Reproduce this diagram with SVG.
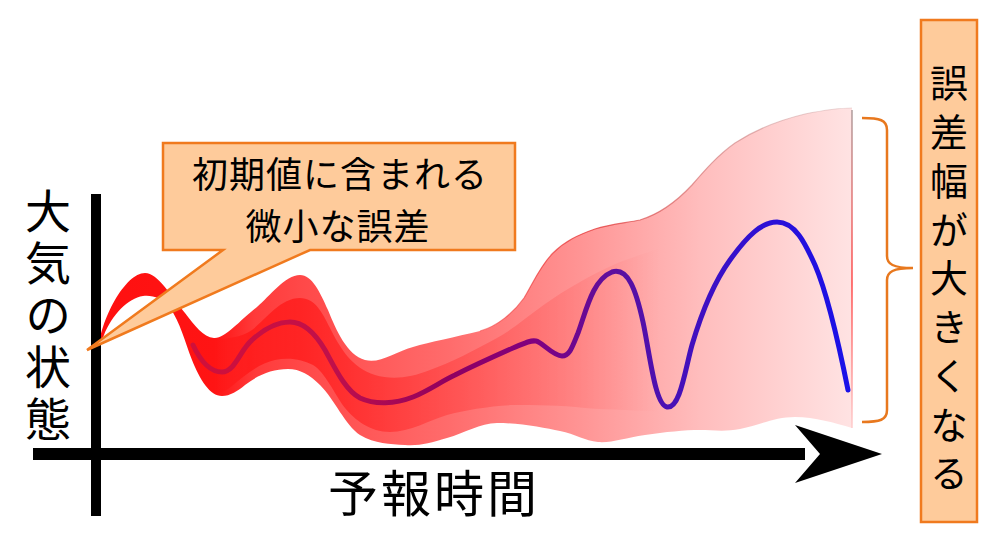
<svg xmlns="http://www.w3.org/2000/svg" width="989" height="545" viewBox="0 0 989 545">
<style>
.jp{font-family:"Noto Sans CJK JP","Noto Sans CJK SC",sans-serif;fill:#000}
.vt{writing-mode:vertical-rl;text-orientation:upright}
.call{fill:#FECB9B;stroke:#F07A1E;stroke-width:2.5;stroke-linejoin:miter}
.brace{fill:none;stroke:#E8781E;stroke-width:2.5}
.ax{fill:#000}
</style>
<defs>
<linearGradient id="outerG" gradientUnits="userSpaceOnUse" x1="96" y1="0" x2="852" y2="0">
<stop offset="0" stop-color="#FF1010"/>
<stop offset="0.157" stop-color="#FF1414"/>
<stop offset="0.21" stop-color="#FF3a3a"/>
<stop offset="0.27" stop-color="#FF4848"/>
<stop offset="0.468" stop-color="#FF6c6c"/>
<stop offset="0.64" stop-color="#FF9494"/>
<stop offset="0.799" stop-color="#FFBDBD"/>
<stop offset="1" stop-color="#FFE3E3"/>
</linearGradient>
<linearGradient id="innerG" gradientUnits="userSpaceOnUse" x1="214" y1="0" x2="660" y2="0">
<stop offset="0" stop-color="#FF0000" stop-opacity="0"/>
<stop offset="0.08" stop-color="#FF0000" stop-opacity="0.45"/>
<stop offset="0.19" stop-color="#FF0000" stop-opacity="0.5"/>
<stop offset="0.52" stop-color="#FF0000" stop-opacity="0.25"/>
<stop offset="0.82" stop-color="#FF0000" stop-opacity="0.1"/>
<stop offset="1" stop-color="#FF0000" stop-opacity="0"/>
</linearGradient>
<linearGradient id="lineG" gradientUnits="userSpaceOnUse" x1="193" y1="0" x2="848" y2="0">
<stop offset="0" stop-color="#D0103A"/>
<stop offset="0.21" stop-color="#C0104A"/>
<stop offset="0.39" stop-color="#900060"/>
<stop offset="0.52" stop-color="#800080"/>
<stop offset="0.65" stop-color="#5A10A0"/>
<stop offset="0.77" stop-color="#4010C0"/>
<stop offset="0.89" stop-color="#2A10D8"/>
<stop offset="1" stop-color="#1A10E8"/>
</linearGradient>
<linearGradient id="edgeG" gradientUnits="userSpaceOnUse" x1="480" y1="0" x2="852" y2="0">
<stop offset="0" stop-color="#F03030" stop-opacity="0.5"/>
<stop offset="0.3" stop-color="#E02828" stop-opacity="0.7"/>
<stop offset="0.7" stop-color="#C07070" stop-opacity="0.5"/>
<stop offset="1" stop-color="#D0B0B0" stop-opacity="0.4"/>
</linearGradient>
<linearGradient id="rightG" gradientUnits="userSpaceOnUse" x1="0" y1="108" x2="0" y2="428">
<stop offset="0" stop-color="#A09090"/>
<stop offset="0.3" stop-color="#E06060"/>
<stop offset="0.55" stop-color="#FF3030"/>
<stop offset="1" stop-color="#FFC8C8"/>
</linearGradient>
</defs>

<g id="error-band">
<path fill="url(#outerG)" d="M98,352 C100,320 125,273 145,273 C158,273 170,295 185,313 C195,326 203,337 214,338 C225,339 240,320 257,307 C270,296 285,275 300,275 C312,275 320,292 328,310 C336,330 347,355 365,360 C380,364 395,352 413,347 C430,342 455,337 480,331 C498,326 514,312 524,298 C532,285 540,266 553,253 C565,241 578,235 595,229 C610,224 625,223 640,220 C660,214 678,200 692,185 C705,170 718,155 735,143 C755,130 780,120 805,114 C825,110 840,108 852,108 L852,428 C835,423 815,417 795,417 C775,417 760,425 740,429 C725,432 712,430 700,430 C685,430 665,432 645,435 C625,438 612,443 598,442 C585,441 575,434 560,431 C545,428 520,423 497,423 C480,423 465,433 447,438 C430,443 420,446 405,445 C390,444 375,444 360,435 C345,425 335,400 320,385 C310,375 300,369 288,369 C272,369 258,375 245,385 C238,391 230,396 222,396 C210,396 200,380 192,360 C185,342 180,322 170,308 C162,298 153,295 143,296 C128,298 112,315 104,335 C100,345 99,350 98,352 Z"/>
<path fill="url(#innerG)" d="M214,340 C228,338 240,338 252,330 C265,320 280,298 300,298 C315,298 322,312 330,328 C340,348 352,368 375,375 C392,380 410,378 430,370 C450,363 475,350 497,338 C512,330 528,316 545,304 C565,290 590,275 620,262 L660,248 L660,412 C640,410 610,410 585,408 C560,405 535,405 513,405 C490,406 465,410 447,415 C430,420 410,432 390,432 C370,432 355,420 345,408 C335,395 325,372 313,365 C303,360 290,357 275,360 C260,363 245,375 232,386 C226,391 220,393 214,393 Z"/>
<path fill="none" stroke="url(#edgeG)" stroke-width="1.2" d="M480,331 C498,326 514,312 524,298 C532,285 540,266 553,253 C565,241 578,235 595,229 C610,224 625,223 640,220 C660,214 678,200 692,185 C705,170 718,155 735,143 C755,130 780,120 805,114 C825,110 840,108 852,108"/>
<line x1="852" y1="110" x2="852" y2="428" stroke="url(#rightG)" stroke-width="1.3"/>
</g>

<g id="forecast-line">
<path fill="none" stroke="url(#lineG)" stroke-width="5" stroke-linecap="round" stroke-linejoin="round" d="M193,345 C200,360 210,372 222,372 C235,372 240,350 252,340 C265,328 278,322 290,322 C303,322 315,333 325,350 C335,368 345,390 360,398 C375,405 395,404 413,397 C430,390 440,382 455,375 C475,365 495,356 513,348 C525,343 530,340 536,341 C542,342 553,356 562,356 C570,356 573,345 578,333 C586,312 592,280 612,272 C628,267 636,290 643,322 C650,355 655,405 667,407 C680,409 685,370 692,345 C700,318 712,285 730,260 C748,235 762,222 777,222 C795,222 805,243 815,265 C828,295 840,350 848,390"/>
</g>

<g id="axes">
<rect class="ax" x="91" y="194" width="10" height="322"/>
<rect class="ax" x="33" y="448" width="772" height="12"/>
<polygon class="ax" points="795,425 882,454 795,483 820,454"/>
</g>

<g id="y-label">
<text class="jp vt" x="48" y="188" font-size="46" letter-spacing="6">大気の状態</text>
</g>

<g id="x-label">
<text class="jp" x="434" y="512" font-size="50" text-anchor="middle" letter-spacing="3">予報時間</text>
</g>

<g id="callout-initial">
<path class="call" d="M163,143 H515 V250 H310 L87,350 L223,250 H163 Z"/>
<text class="jp" x="340" y="187.5" font-size="36" text-anchor="middle" letter-spacing="1">初期値に含まれる</text>
<text class="jp" x="338" y="239.5" font-size="36" text-anchor="middle" letter-spacing="1">微小な誤差</text>
</g>

<g id="connectors">
<path class="brace" d="M862,118 C880,118 887,120 887,130 L887,256 C887,264 893,268 913,268 C893,268 887,272 887,280 L887,410 C887,420 880,422 862,422"/>
</g>

<g id="callout-spread">
<rect class="call" x="921" y="20" width="56" height="502"/>
<text class="jp vt" x="949" y="64" font-size="38" letter-spacing="10.75">誤差幅が大きくなる</text>
</g>
</svg>
